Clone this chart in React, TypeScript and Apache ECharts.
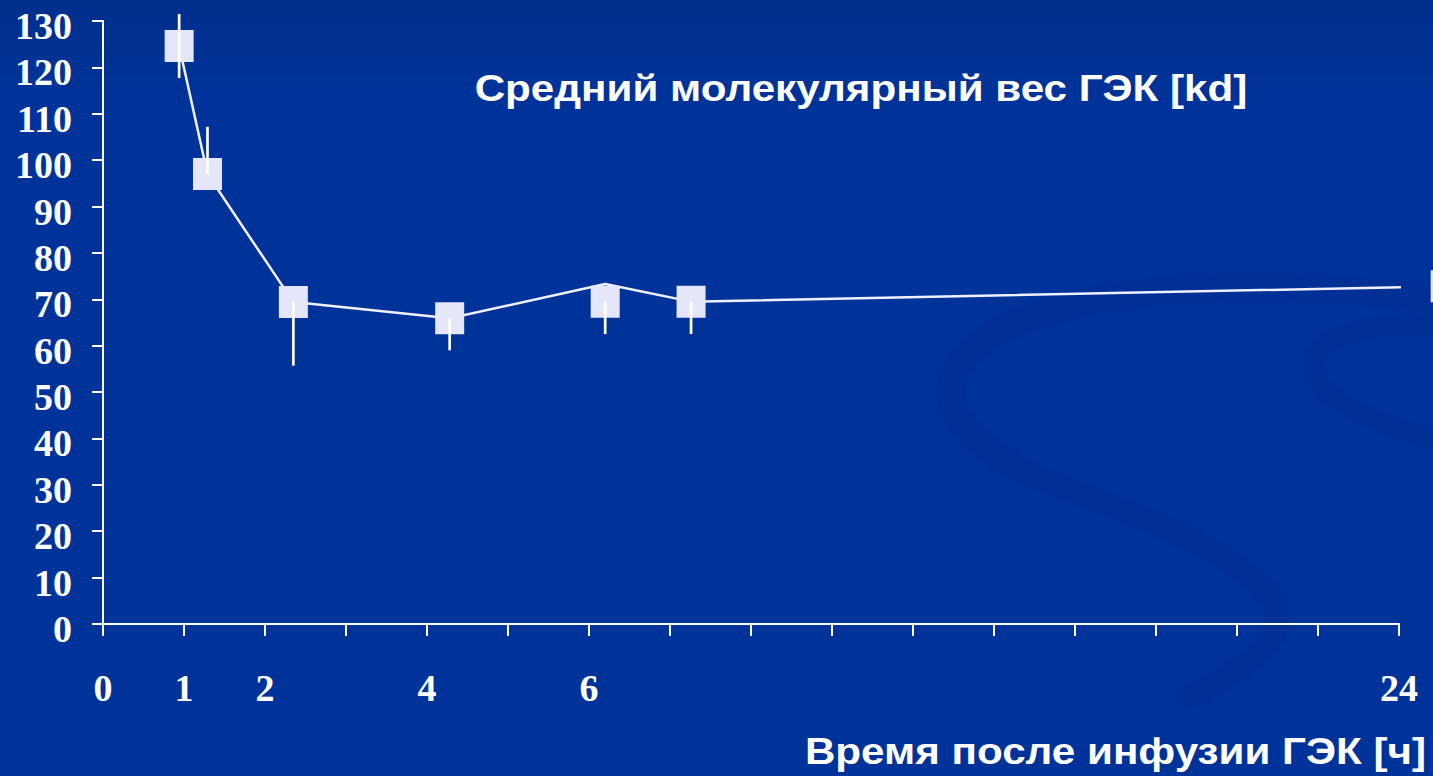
import React, { useEffect, useRef } from "react";
import * as echarts from "echarts";

// x positions are in axis units (ticks 0..16, where tick 16 is labelled "24 h")
const xPositions = [0.94, 1.29, 2.35, 4.28, 6.2, 7.26, 16.57];
const markerValues = [124.6, 97.0, 69.4, 65.9, 69.5, 69.5, 72.8];
const lineValues = [124.6, 97.0, 69.4, 65.9, 73.3, 69.5, 72.8];
const errLow = [117.7, 97.0, 55.7, 59.0, 62.5, 62.5];
const errHigh = [131.5, 107.2, 69.4, 65.9, 69.5, 69.5];
const xTickLabels: Record<number, string> = { 0: "0", 1: "1", 2: "2", 4: "4", 6: "6", 16: "24" };
const titleText = "Средний молекулярный вес ГЭК [kd]";
const xAxisTitle = "Время после инфузии ГЭК [ч]";

export default function App() {
  const ref = useRef<HTMLDivElement>(null);
  useEffect(() => {
    if (!ref.current) return;
    const chart = echarts.init(ref.current, undefined, { renderer: "svg" });
    const lineData = xPositions.map((x, i) => [x, lineValues[i]]);
    const markerData = xPositions.map((x, i) => [x, markerValues[i]]);
    const errData = errLow.map((lo, i) => [xPositions[i], lo, errHigh[i]]);
    const swirl = "rgba(0,30,120,0.12)";
    chart.setOption({
      animation: false,
      backgroundColor: {
        type: "linear", x: 0, y: 0, x2: 0, y2: 1,
        colorStops: [
          { offset: 0, color: "#002f8c" },
          { offset: 0.12, color: "#003399" },
          { offset: 1, color: "#003399" },
        ],
      },
      grid: { left: 103, right: 34, top: 21, bottom: 152 },
      xAxis: {
        type: "value", min: 0, max: 16, interval: 1,
        axisLine: { show: true, lineStyle: { color: "#ffffff", width: 2 } },
        axisTick: { show: true, length: 12, lineStyle: { color: "#ffffff", width: 2 } },
        splitLine: { show: false },
        axisLabel: {
          margin: 64,
          color: "#ffffff",
          fontFamily: "Liberation Serif",
          fontWeight: "bold",
          fontSize: 38,
          verticalAlign: "middle",
          formatter: (v: number) => xTickLabels[v] ?? "",
        },
      },
      yAxis: {
        type: "value", min: 0, max: 130, interval: 10,
        axisLine: { show: true, lineStyle: { color: "#ffffff", width: 2 } },
        axisTick: { show: true, length: 11, lineStyle: { color: "#ffffff", width: 2 } },
        splitLine: { show: false },
        axisLabel: {
          margin: 31,
          color: "#ffffff",
          fontFamily: "Liberation Serif",
          fontWeight: "bold",
          fontSize: 38,
          verticalAlign: "top",
          lineHeight: 10,
        },
      },
      graphic: [
        {
          type: "bezierCurve", silent: true, z: -10,
          shape: { x1: 1440, y1: 300, cpx1: 1000, cpy1: 245, cpx2: 840, cpy2: 380, x2: 1030, y2: 475 },
          style: { stroke: swirl, lineWidth: 30, fill: null },
        },
        {
          type: "bezierCurve", silent: true, z: -10,
          shape: { x1: 1030, y1: 475, cpx1: 1220, cpy1: 545, cpx2: 1390, cpy2: 610, x2: 1180, y2: 700 },
          style: { stroke: swirl, lineWidth: 26, fill: null },
        },
        {
          type: "bezierCurve", silent: true, z: -10,
          shape: { x1: 1440, y1: 325, cpx1: 1270, cpy1: 320, cpx2: 1270, cpy2: 400, x2: 1440, y2: 440 },
          style: { stroke: swirl, lineWidth: 22, fill: null },
        },
        {
          type: "text", x: 861, y: 88, scaleX: 1.14, scaleY: 1,
          style: {
            text: titleText, x: 0, y: 0,
            fill: "#ffffff", font: "bold 37px 'Liberation Sans', Arial, sans-serif",
            textAlign: "center", textVerticalAlign: "middle",
          },
        },
        {
          type: "text", x: 1426, y: 751, scaleX: 1.14, scaleY: 1,
          style: {
            text: xAxisTitle, x: 0, y: 0,
            fill: "#ffffff", font: "bold 37px 'Liberation Sans', Arial, sans-serif",
            textAlign: "right", textVerticalAlign: "middle",
          },
        },
      ],
      series: [
        {
          type: "line", data: lineData, symbol: "none", clip: false, z: 2,
          lineStyle: { color: "#f0f0ff", width: 2.5 },
        },
        {
          type: "scatter", data: markerData, symbol: "rect", symbolSize: [29, 32], clip: false, z: 3,
          itemStyle: { color: "#e6e6fa", opacity: 1 },
        },
        {
          type: "custom", data: errData, clip: false, z: 4,
          renderItem: (params: any, api: any) => {
            const x = api.value(0);
            const p1 = api.coord([x, api.value(1)]);
            const p2 = api.coord([x, api.value(2)]);
            return {
              type: "line",
              shape: { x1: p1[0], y1: p1[1], x2: p2[0], y2: p2[1] },
              style: { stroke: "#ffffff", lineWidth: 2.7 },
            };
          },
        },
      ],
    });
    return () => chart.dispose();
  }, []);
  return <div ref={ref} style={{ width: 1433, height: 776, position: "absolute", left: 0, top: 0 }} />;
}
